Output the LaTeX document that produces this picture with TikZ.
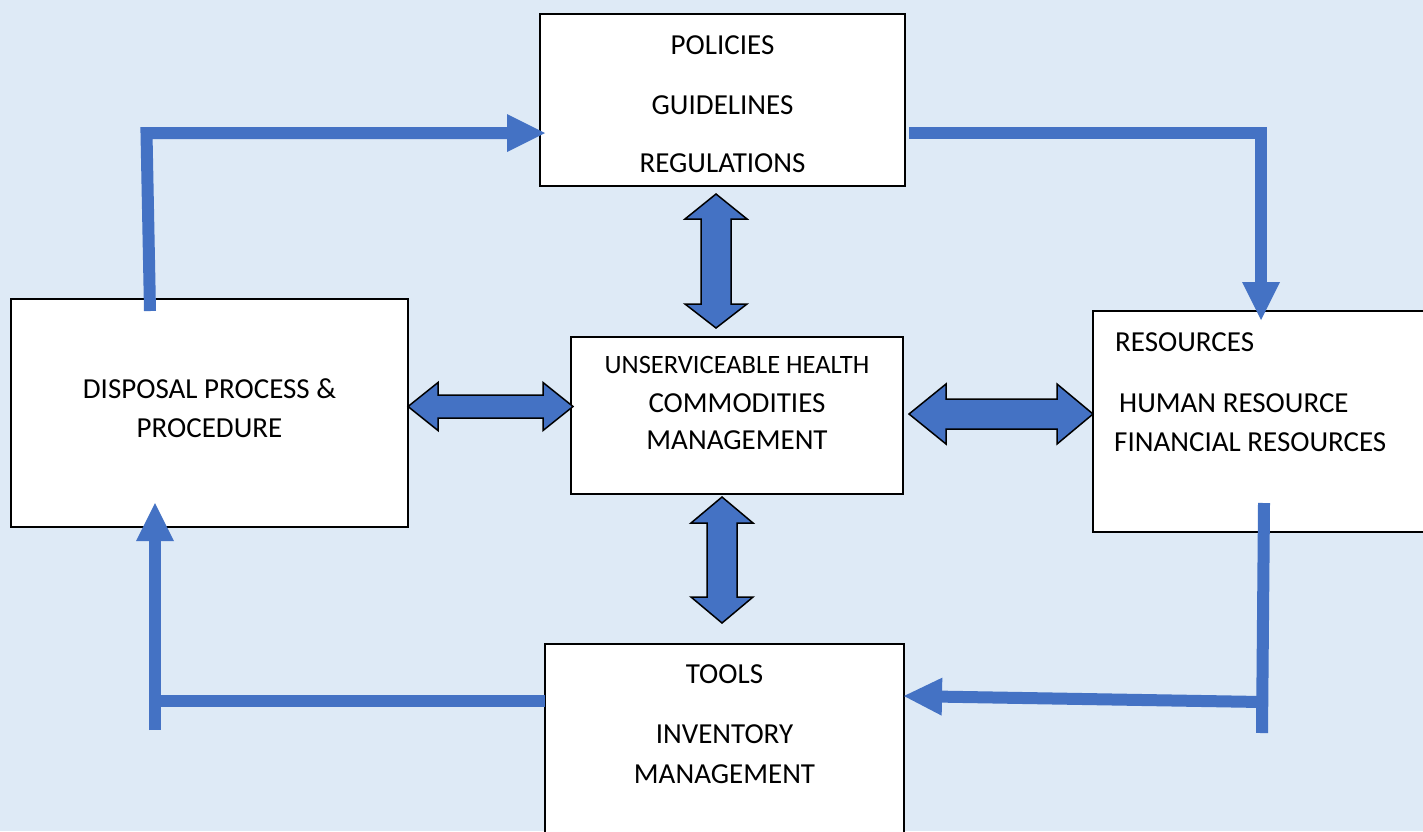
\documentclass[tikz,border=0pt]{standalone}
\usepackage{fontspec}
\setmainfont{Carlito}
\usetikzlibrary{arrows.meta}
\definecolor{bgblue}{HTML}{DEEAF6}
\definecolor{flowblue}{HTML}{4472C4}
\begin{document}
\begin{tikzpicture}[x=1pt,y=-1pt,
  box/.style={draw=black,fill=white,line width=1.5pt,inner sep=0pt,outer sep=0pt},
  lbl/.style={inner sep=0pt,font=\fontsize{29}{35}\selectfont},
  lblsmall/.style={inner sep=0pt,font=\fontsize{26.5}{32}\selectfont},
  flow/.style={draw=flowblue,line width=12pt,line cap=butt,line join=miter},
  flowtip/.style={flow,-{Triangle[length=38pt,width=38pt,line width=0pt]}},
  twoway/.style={fill=flowblue,draw=black,line width=1.5pt,line join=miter}]

% page and backdrop
\clip (0,0) rectangle (1423,831);
\fill[bgblue] (0,0) rectangle (1423,831);

% boxes
\node[box,minimum width=365pt,minimum height=172pt] (pol) at (722.5,100) {};
\node[box,minimum width=397pt,minimum height=228pt] (disp) at (209.5,413) {};
\node[box,minimum width=332pt,minimum height=157pt] (mgmt) at (737,415.5) {};
\node[box,minimum width=347pt,minimum height=221pt] (res) at (1266.5,421.5) {};
\node[box,minimum width=359pt,minimum height=206pt] (tools) at (724.5,747) {};

% texts
\node[lbl] (polA) at (722.5,45) {POLICIES};
\node[lbl] (polB) at (722.5,105) {GUIDELINES};
\node[lbl] (polC) at (722.5,163) {REGULATIONS};

\node[lbl] (dispA) at (209.5,389) {DISPOSAL PROCESS \&};
\node[lbl] (dispB) at (209.5,428) {PROCEDURE};

\node[lblsmall] (mgmtA) at (737,365) {UNSERVICEABLE HEALTH};
\node[lbl] (mgmtB) at (737,403) {COMMODITIES};
\node[lbl] (mgmtC) at (737,440) {MANAGEMENT};

\node[lbl,anchor=west] (resA) at (1115,342) {RESOURCES};
\node[lbl,anchor=west] (resB) at (1119,403) {HUMAN RESOURCE};
\node[lbl,anchor=west] (resC) at (1114,442) {FINANCIAL RESOURCES};

\node[lbl] (toolsA) at (724.5,674.5) {TOOLS};
\node[lbl] (toolsB) at (724.5,734) {INVENTORY};
\node[lbl] (toolsC) at (724.5,774) {MANAGEMENT};

% cycle connectors
\coordinate (tlStart) at (150,311);
\coordinate (tlBend) at (146.5,133);
\coordinate (trStart) at (909,133);
\coordinate (trBend) at (1261,133);
\coordinate (brTop) at (1264,503);
\coordinate (brBottom) at (1262,733);
\coordinate (brJoin) at (1262,702);
\coordinate (blBottom) at (155,730);
\coordinate (blJoin) at (155,701);

\draw[flowtip] (tlStart) -- (tlBend) -- ([xshift=5pt]tlBend -| pol.west);
\draw[flowtip] (trStart) -- (trBend) -- ([yshift=-9pt]trBend |- res.north);
\draw[flow] (brTop) -- (brBottom);
\draw[flowtip] (brJoin) -- (904,696);
\draw[flow] (tools.west |- blJoin) -- (blJoin);
\draw[flowtip] (blBottom) -- ([yshift=24pt]blBottom |- disp.south);

% two-way block arrows
\draw[twoway] (716,194) -- (747,219) -- (731,219) -- (731,304) -- (747,304)
  -- (716,328) -- (685,304) -- (701,304) -- (701,219) -- (685,219) -- cycle;
\draw[twoway] (722,497) -- (753,523) -- (737,523) -- (737,597) -- (753,597)
  -- (722,623) -- (691,597) -- (707,597) -- (707,523) -- (691,523) -- cycle;
\draw[twoway] (408,406.5) -- (438,382.5) -- (438,395) -- (543,395) -- (543,382.5)
  -- (573,406.5) -- (543,430.5) -- (543,418) -- (438,418) -- (438,430.5) -- cycle;
\draw[twoway] (909,414) -- (946,384) -- (946,399) -- (1057,399) -- (1057,384)
  -- (1093,414) -- (1057,444) -- (1057,429) -- (946,429) -- (946,444) -- cycle;
\end{tikzpicture}
\end{document}
